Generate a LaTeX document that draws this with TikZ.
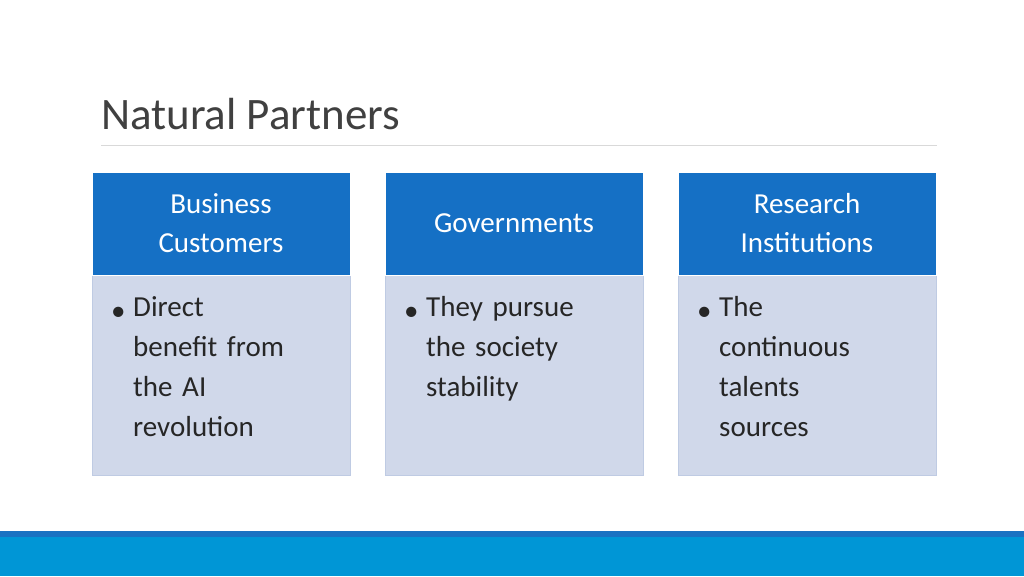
\documentclass[tikz,border=0pt]{standalone}
\usepackage{fontspec}
\setmainfont{Carlito}
\definecolor{headblue}{HTML}{1570C5}
\definecolor{bodyfill}{HTML}{D0D8EA}
\definecolor{bodyline}{HTML}{BFCBE3}
\definecolor{barblue}{HTML}{0096D6}
\definecolor{bartop}{HTML}{1A72C2}
\tikzset{
  headbox/.style={fill=headblue, draw=white, line width=0.8pt},
  bodybox/.style={fill=bodyfill, draw=bodyline, line width=0.8pt},
  headtext/.style={text=white, align=center, font=\fontsize{29}{39}\selectfont},
  bodytext/.style={anchor=north west, inner sep=0pt, align=left, text width=215pt,
    text=black!85, font=\fontsize{29}{40}\selectfont}
}
\begin{document}
\begin{tikzpicture}[x=1pt,y=-1pt]
  \useasboundingbox (0,0) rectangle (1024,576);
  \fill[white] (0,0) rectangle (1024,576);

  % Titel und Linie
  \node[anchor=base west, inner sep=0pt, text=black!75, font=\fontsize{45}{50}\selectfont] (title) at (101,129) {Natural Partners};
  \draw[black!15, line width=1pt] (101,145) -- (937,145);

  % Drei Spalten
  \foreach \x/\name/\head/\body in {
      92/bus/{Business\\Customers}/{Direct\\benefit from\\the AI\\revolution},
      385/gov/{Governments}/{They pursue\\the society\\stability},
      678/res/{Research\\Institutions}/{The\\continuous\\talents\\sources}} {
    \draw[bodybox] (\x,275) rectangle (\x+258,475);
    \draw[headbox] (\x,172) rectangle (\x+258,275);
    \node[headtext] (\name-head) at (\x+129,223) {\head};
    \node[anchor=base west, inner sep=0pt, text=black!85, font=\fontsize{29}{40}\selectfont] (\name-dot) at (\x+19,320) {\textbullet};
    \node[bodytext] (\name-text) at (\x+41,296) {\body};
  }

  % Balken unten
  \fill[barblue] (0,531) rectangle (1024,576);
  \fill[bartop] (0,531) rectangle (1024,537);
\end{tikzpicture}
\end{document}
